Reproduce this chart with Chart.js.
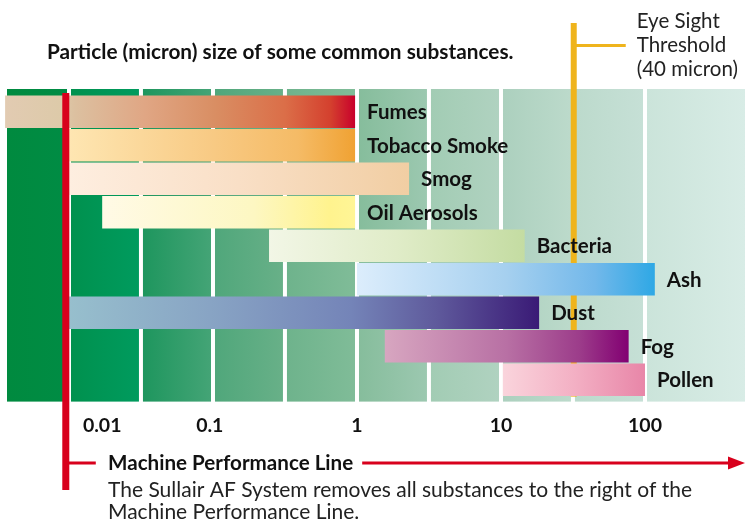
<!DOCTYPE html>
<html>
<head>
<meta charset="utf-8">
<script src="https://cdn.jsdelivr.net/npm/chart.js@4.4.1/dist/chart.umd.min.js"></script>
<style>
  html, body { margin: 0; padding: 0; background: #fff; }
  #wrap { width: 745px; height: 525px; }
</style>
</head>
<body>
<div id="wrap"><canvas id="sizes" width="745" height="525"></canvas></div>
<script>
// particle size ranges, in micron
const substances = ["Fumes", "Tobacco Smoke", "Smog", "Oil Aerosols", "Bacteria", "Ash", "Dust", "Fog", "Pollen"];
const sizeFrom = [0.0036, 0.01, 0.01, 0.017, 0.245, 1, 0.01, 1.56, 10.3];
const sizeTo = [0.97, 0.97, 2.3, 0.97, 14.6, 117, 18.4, 77, 100];

// axis labels (the 0.01 label sits a bit right of its value in the original)
const tickValues = [0.017, 0.095, 1, 10, 100];
const tickLabels = ["0.01", "0.1", "1", "10", "100"];

// background columns split every half decade
const bandEdges = [0.01, 0.0316, 0.1, 0.316, 1, 3.16, 10, 31.6, 100];

const eyeSight = 32;        // Eye Sight Threshold line
const machineLine = 0.0095; // Machine Performance Line

const bandColors = [
	["#008a3f", "#008c44"], ["#00914e", "#009b5e"], ["#1e965e", "#44a476"],
	["#50a77b", "#68b088"], ["#6eb38c", "#80bc98"], ["#86bd9c", "#9cc8b0"],
	["#a2ccb4", "#b0d2c0"], ["#acd0be", "#bcdacb"], ["#bcdacc", "#c6e0d6"],
	["#cbe4da", "#d8ece6"],
];

const barStops = [
	[[0, "#e2cbb2"], [0.16, "#ddcaa9"], [0.2, "#dcc0a0"], [0.4, "#e0a684"], [0.6, "#d98e63"], [0.8, "#db6e48"], [0.93, "#d4402e"], [1, "#c8002b"]],
	[[0, "#fee6b2"], [0.5, "#f8ca84"], [0.8, "#f5bb66"], [1, "#f0a233"]],
	[[0, "#feeee0"], [0.5, "#f9dfc6"], [1, "#f1cea3"]],
	[[0, "#fffae6"], [0.6, "#fdf7c2"], [0.9, "#fff38e"], [1, "#fff596"]],
	[[0, "#f2f6e6"], [0.5, "#e0ecc8"], [1, "#c4dca2"]],
	[[0, "#dcedfc"], [0.5, "#a6d0ef"], [0.8, "#72b8ea"], [1, "#2ea8e5"]],
	[[0, "#97bfcd"], [0.3, "#88a4c4"], [0.6, "#7484b8"], [0.78, "#5f5a9c"], [1, "#3a1a76"]],
	[[0, "#d7a6c0"], [0.5, "#b870a4"], [0.8, "#9c3c8a"], [1, "#820072"]],
	[[0, "#fad4dc"], [0.5, "#f3b0c4"], [1, "#e886a8"]],
];

const FONT = "Lato, 'Liberation Sans', sans-serif";

const barFill = (ctx) => {
	const chart = ctx.chart;
	const x = chart.scales.x;
	const i = ctx.dataIndex;
	if (!x || ctx.type !== "data") return barStops[0][0][1];
	const x0 = x.getPixelForValue(sizeFrom[i]);
	const x1 = x.getPixelForValue(sizeTo[i]);
	if (!isFinite(x0) || !isFinite(x1) || x0 === x1) return barStops[i][0][1];
	const g = chart.ctx.createLinearGradient(x0, 0, x1, 0);
	barStops[i].forEach(([o, c]) => g.addColorStop(o, c));
	return g;
};

const backdrop = {
	id: "backdrop",
	beforeDatasetsDraw(chart) {
		const { ctx, chartArea, scales: { x } } = chart;
		const top = chartArea.top - 6;
		const bottom = chartArea.bottom + 5;
		const edges = [x.min, ...bandEdges, x.max];
		ctx.save();
		for (let i = 0; i < edges.length - 1; i++) {
			const x0 = i === 0 ? chartArea.left + 2 : x.getPixelForValue(edges[i]) + 2;
			const x1 = i === edges.length - 2 ? chartArea.right : x.getPixelForValue(edges[i + 1]) - 2;
			const g = ctx.createLinearGradient(x0, 0, x1, 0);
			g.addColorStop(0, bandColors[i][0]);
			g.addColorStop(1, bandColors[i][1]);
			ctx.fillStyle = g;
			ctx.fillRect(x0, top, x1 - x0, bottom - top);
		}
		// eye sight threshold, sits behind the bars
		const ex = x.getPixelForValue(eyeSight);
		ctx.fillStyle = "#efb41c";
		ctx.fillRect(ex - 3, 23, 6, chartArea.bottom - 23);
		ctx.fillRect(ex, 44, 52, 3);
		ctx.fillStyle = "#222";
		ctx.font = "20.5px " + FONT;
		ctx.textBaseline = "middle";
		ctx.fillText("Eye Sight", ex + 63, 21);
		ctx.fillText("Threshold", ex + 63, 45);
		ctx.fillText("(40 micron)", ex + 63, 69);
		ctx.restore();
	},
	afterDatasetsDraw(chart) {
		const { ctx, scales: { x } } = chart;
		ctx.save();
		ctx.fillStyle = "#111";
		ctx.textBaseline = "middle";

		// title
		ctx.font = "bold 20.8px " + FONT;
		ctx.fillText("Particle (micron) size of some common substances.", 47, 52);

		// labels after each bar
		ctx.font = "bold 20.5px " + FONT;
		chart.getDatasetMeta(0).data.forEach((bar, i) => {
			ctx.fillText(substances[i], bar.x + 12, bar.y + 1);
		});

		// machine performance line
		const mx = x.getPixelForValue(machineLine);
		const ay = 463;
		ctx.fillStyle = "#d8001c";
		ctx.fillRect(mx - 3.5, 93, 7, 397);
		ctx.fillRect(mx, ay - 1.5, 30, 3);
		ctx.font = "bold 20.6px " + FONT;
		const caption = "Machine Performance Line";
		const endText = 108 + ctx.measureText(caption).width + 9;
		ctx.fillRect(endText, ay - 1.5, chart.width - 14 - endText, 3);
		ctx.beginPath();
		ctx.moveTo(chart.width, ay);
		ctx.lineTo(chart.width - 17, ay - 6.5);
		ctx.lineTo(chart.width - 17, ay + 6.5);
		ctx.closePath();
		ctx.fill();

		ctx.fillStyle = "#111";
		ctx.fillText(caption, 108, ay);
		ctx.font = "21px " + FONT;
		ctx.fillStyle = "#222";
		ctx.fillText("The Sullair AF System removes all substances to the right of the", 108, 490);
		ctx.fillText("Machine Performance Line.", 108, 512);
		ctx.restore();
	},
};

new Chart(document.getElementById("sizes"), {
	type: "bar",
	data: {
		labels: substances,
		datasets: [
			{
				label: "Particle size",
				data: sizeFrom.map((v, i) => [v, sizeTo[i]]),
				backgroundColor: barFill,
				borderWidth: 0,
				borderSkipped: false,
				barPercentage: 0.97,
				categoryPercentage: 1,
			},
		],
	},
	options: {
		indexAxis: "y",
		responsive: false,
		animation: false,
		layout: { padding: { left: 5, right: 0, top: 95, bottom: 71 } },
		plugins: {
			legend: { display: false },
			tooltip: { enabled: false },
		},
		scales: {
			x: {
				type: "logarithmic",
				bounds: "data",
				min: 0.003594,
				max: 494.9,
				grid: { display: false, drawTicks: false },
				border: { display: false },
				afterBuildTicks: (axis) => {
					axis.ticks = tickValues.map((v) => ({ value: v }));
				},
				ticks: {
					autoSkip: false,
					maxRotation: 0,
					padding: 17,
					color: "#111",
					font: { family: FONT, size: 19.5, weight: "bold" },
					callback: (value, index) => tickLabels[index],
				},
			},
			y: {
				display: false,
				grid: { display: false },
			},
		},
	},
	plugins: [backdrop],
});
</script>
</body>
</html>
